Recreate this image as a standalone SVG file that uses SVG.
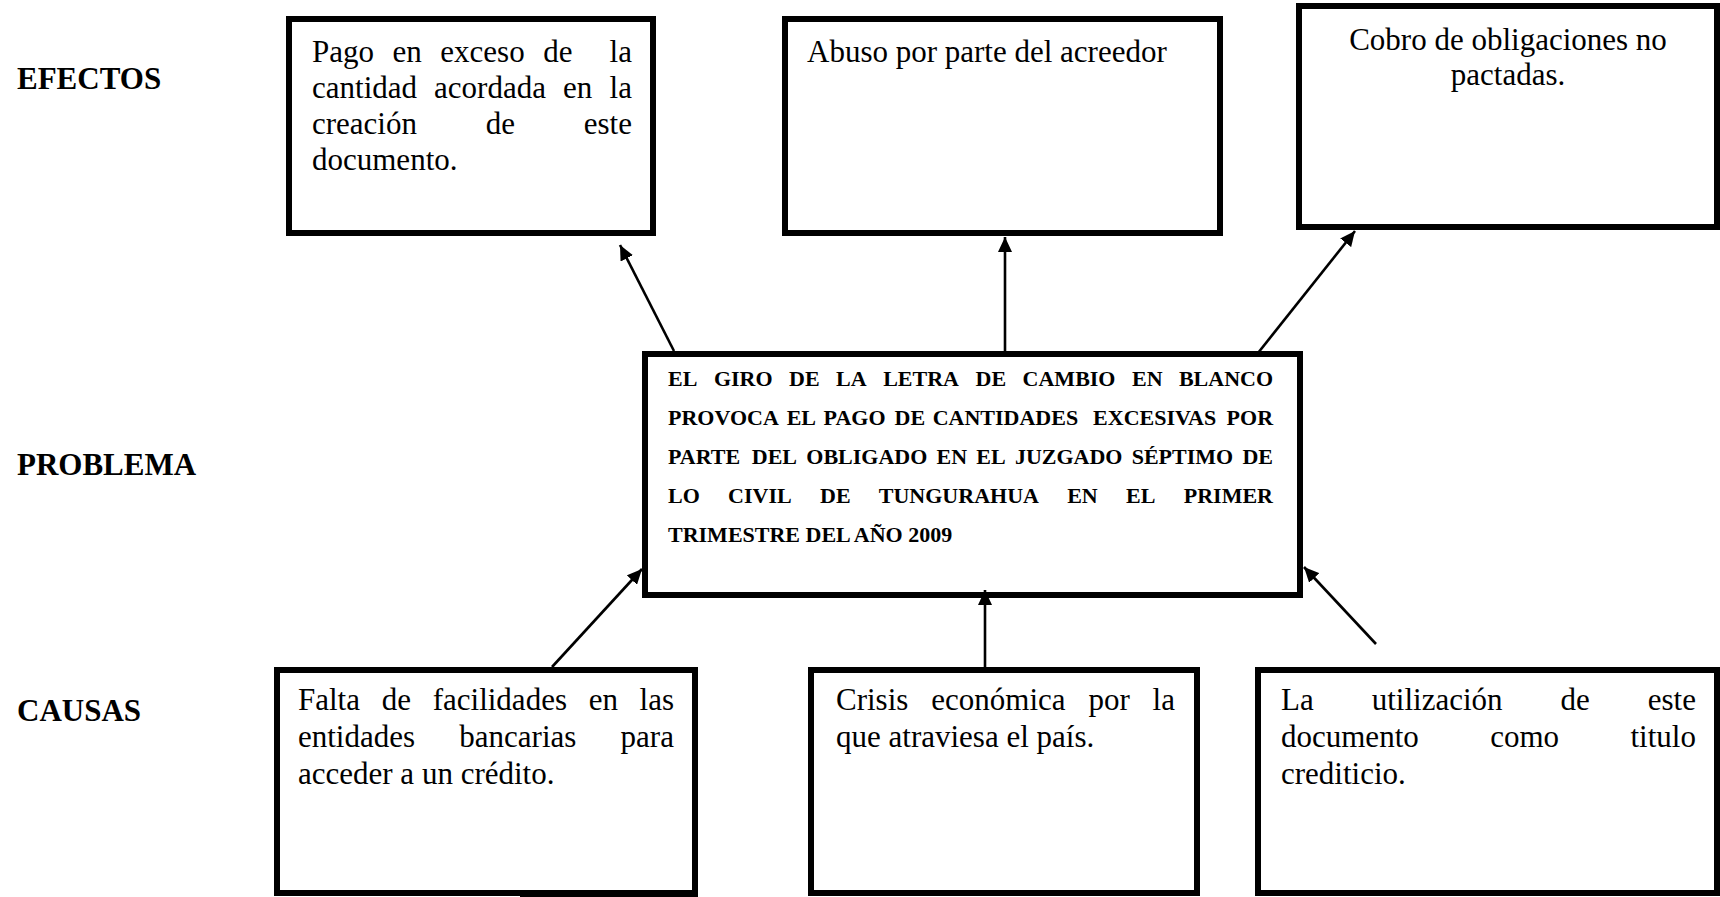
<svg xmlns="http://www.w3.org/2000/svg" width="1720" height="897" viewBox="0 0 1720 897">
<defs>
<style>
.box{fill:#fff;stroke:#000;stroke-width:6}
.t{font-family:"Liberation Serif","Times New Roman",serif;font-size:31px;fill:#000}
.p{font-family:"Liberation Serif","Times New Roman",serif;font-size:22px;font-weight:bold;fill:#000}
.lbl{font-family:"Liberation Serif","Times New Roman",serif;font-size:31px;font-weight:bold;fill:#000}
.c{fill:none;stroke:#000;stroke-width:2.6}
</style>
<marker id="ah" markerUnits="userSpaceOnUse" markerWidth="16" markerHeight="14" refX="15" refY="7" orient="auto">
<path d="M0,0 L15,7 L0,14 z" fill="#000"/>
</marker>
</defs>
<rect width="1720" height="897" fill="#fff"/>
<g id="labels">
<text class="lbl" x="17" y="89">EFECTOS</text>
<text class="lbl" x="17" y="475">PROBLEMA</text>
<text class="lbl" x="17" y="721">CAUSAS</text>
</g>
<g id="efecto1">
<rect class="box" x="289" y="19" width="364" height="214"/>
<text class="t" y="62"><tspan x="312">Pago</tspan><tspan x="392.5">en</tspan><tspan x="440.3">exceso</tspan><tspan x="543.2">de</tspan><tspan x="609.6">la</tspan></text>
<text class="t" y="98"><tspan x="312">cantidad</tspan><tspan x="434.1">acordada</tspan><tspan x="563.1">en</tspan><tspan x="609.6">la</tspan></text>
<text class="t" y="134"><tspan x="312">creación</tspan><tspan x="485.8">de</tspan><tspan x="583.8">este</tspan></text>
<text class="t" x="312" y="170">documento.</text>
</g>
<g id="efecto2">
<rect class="box" x="785" y="19" width="435" height="214"/>
<text class="t" x="807" y="62">Abuso por parte del acreedor</text>
</g>
<g id="efecto3">
<rect class="box" x="1299" y="6" width="418" height="221"/>
<text class="t" x="1508" y="50" text-anchor="middle">Cobro de obligaciones no</text>
<text class="t" x="1508" y="85" text-anchor="middle">pactadas.</text>
</g>
<g id="problema">
<rect class="box" x="645" y="354" width="655" height="241"/>
<g transform="translate(-3,0)">
<text class="p" y="386"><tspan x="671">EL</tspan><tspan x="716.9">GIRO</tspan><tspan x="792">DE</tspan><tspan x="839.1">LA</tspan><tspan x="886.2">LETRA</tspan><tspan x="978.5">DE</tspan><tspan x="1025.6">CAMBIO</tspan><tspan x="1135">EN</tspan><tspan x="1181.9">BLANCO</tspan></text>
<text class="p" y="425"><tspan x="671">PROVOCA</tspan><tspan x="789.7">EL</tspan><tspan x="826.6">PAGO</tspan><tspan x="897.6">DE</tspan><tspan x="935.7">CANTIDADES</tspan><tspan x="1096.1">EXCESIVAS</tspan><tspan x="1229.6">POR</tspan></text>
<text class="p" y="464"><tspan x="671">PARTE</tspan><tspan x="754.8">DEL</tspan><tspan x="809.3">OBLIGADO</tspan><tspan x="939.5">EN</tspan><tspan x="979.3">EL</tspan><tspan x="1017.9">JUZGADO</tspan><tspan x="1134.7">SÉPTIMO</tspan><tspan x="1245.4">DE</tspan></text>
<text class="p" y="503"><tspan x="671">LO</tspan><tspan x="731.1">CIVIL</tspan><tspan x="823">DE</tspan><tspan x="881.8">TUNGURAHUA</tspan><tspan x="1070.2">EN</tspan><tspan x="1129.1">EL</tspan><tspan x="1186.8">PRIMER</tspan></text>
<text class="p" x="671" y="542">TRIMESTRE DEL AÑO 2009</text>
</g>
</g>
<g id="causa1">
<rect class="box" x="277" y="670" width="418" height="223"/>
<rect x="520" y="891" width="178" height="6" fill="#000"/>
<text class="t" y="710"><tspan x="298">Falta</tspan><tspan x="381.7">de</tspan><tspan x="432.7">facilidades</tspan><tspan x="588.7">en</tspan><tspan x="639.6">las</tspan></text>
<text class="t" y="747"><tspan x="298">entidades</tspan><tspan x="459.3">bancarias</tspan><tspan x="620.6">para</tspan></text>
<text class="t" x="298" y="784">acceder a un crédito.</text>
</g>
<g id="causa2">
<rect class="box" x="811" y="670" width="386" height="223"/>
<text class="t" y="710"><tspan x="836">Crisis</tspan><tspan x="931.3">económica</tspan><tspan x="1088.5">por</tspan><tspan x="1152.6">la</tspan></text>
<text class="t" x="836" y="747">que atraviesa el país.</text>
</g>
<g id="causa3">
<rect class="box" x="1258" y="670" width="459" height="223"/>
<text class="t" y="710"><tspan x="1281">La</tspan><tspan x="1371.7">utilización</tspan><tspan x="1560.6">de</tspan><tspan x="1647.8">este</tspan></text>
<text class="t" y="747"><tspan x="1281">documento</tspan><tspan x="1490.2">como</tspan><tspan x="1630.5">titulo</tspan></text>
<text class="t" x="1281" y="784">crediticio.</text>
</g>
<g id="connectors">
<line class="c" x1="674" y1="351" x2="620" y2="245" marker-end="url(#ah)"/>
<line class="c" x1="1005" y1="351" x2="1005" y2="237" marker-end="url(#ah)"/>
<line class="c" x1="1258" y1="353" x2="1355" y2="231" marker-end="url(#ah)"/>
<line class="c" x1="552" y1="667" x2="642" y2="569" marker-end="url(#ah)"/>
<line class="c" x1="985" y1="667" x2="985" y2="590" marker-end="url(#ah)"/>
<line class="c" x1="1376" y1="644" x2="1304" y2="567" marker-end="url(#ah)"/>
</g>
</svg>
